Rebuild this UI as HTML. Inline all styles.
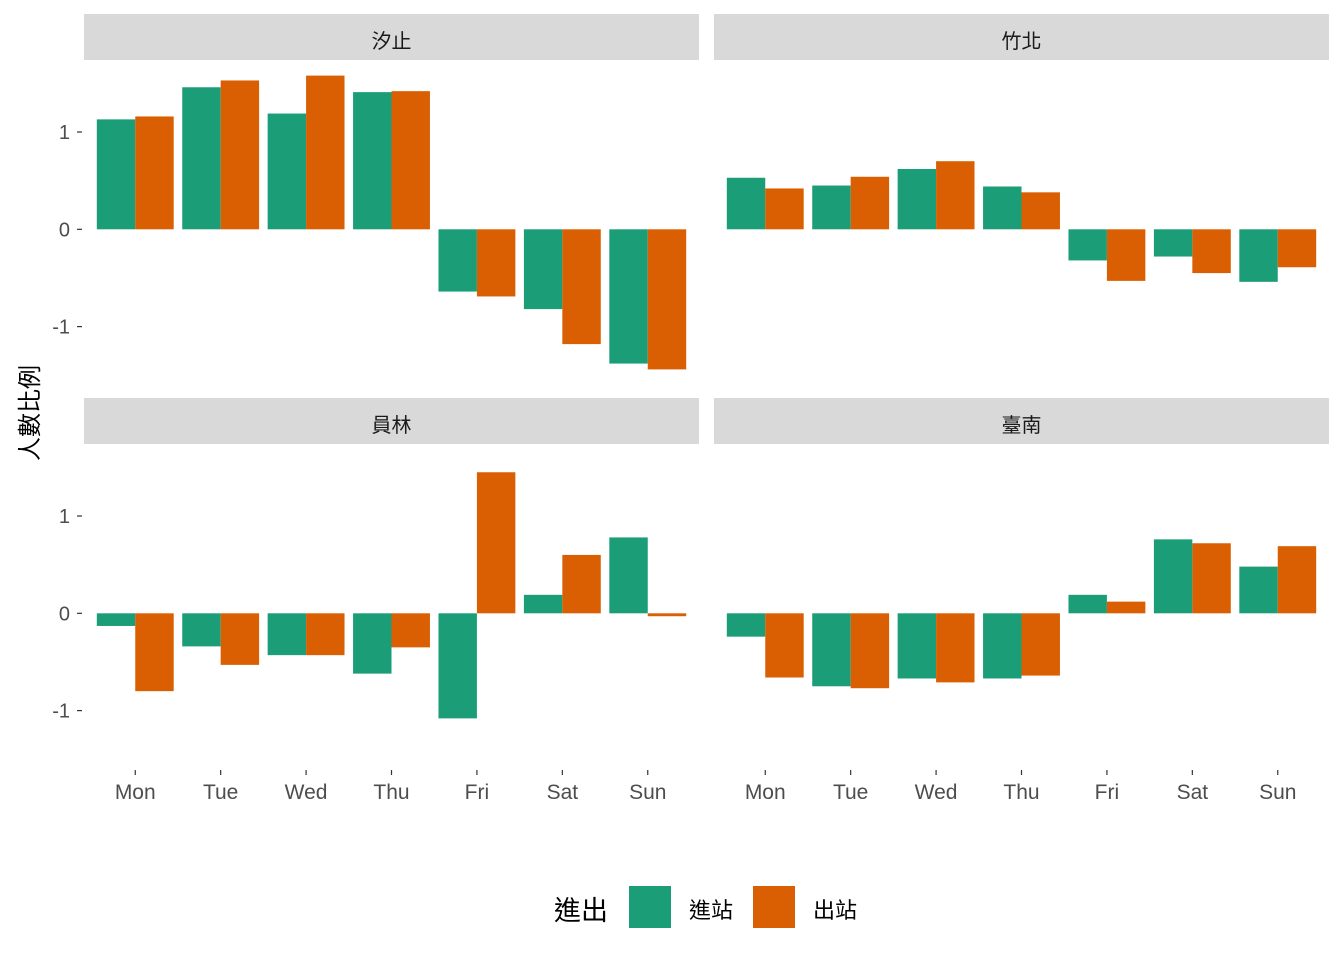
<!DOCTYPE html>
<html><head><meta charset="utf-8"><style>
body{margin:0;background:#fff}
svg{display:block;font-family:"Liberation Sans","Noto Sans CJK TC",sans-serif}
</style></head><body>
<svg id="chart" width="1344" height="960"></svg>
<script>
const days = ["Mon","Tue","Wed","Thu","Fri","Sat","Sun"];
const stations = ["汐止","竹北","員林","臺南"];
const seriesNames = ["進站","出站"];
const xizhiIn = [1.13,1.46,1.19,1.41,-0.64,-0.82,-1.38];
const xizhiOut = [1.16,1.53,1.58,1.42,-0.69,-1.18,-1.44];
const zhubeiIn = [0.53,0.45,0.62,0.44,-0.32,-0.28,-0.54];
const zhubeiOut = [0.42,0.54,0.70,0.38,-0.53,-0.45,-0.39];
const yuanlinIn = [-0.13,-0.34,-0.43,-0.62,-1.08,0.19,0.78];
const yuanlinOut = [-0.80,-0.53,-0.43,-0.35,1.45,0.60,-0.03];
const tainanIn = [-0.24,-0.75,-0.67,-0.67,0.19,0.76,0.48];
const tainanOut = [-0.66,-0.77,-0.71,-0.64,0.12,0.72,0.69];
const yTicks = [-1,0,1];
const panelData = [[xizhiIn,xizhiOut],[zhubeiIn,zhubeiOut],[yuanlinIn,yuanlinOut],[tainanIn,tainanOut]];
const colors = ["#1B9E77","#D95F02"];
const NS="http://www.w3.org/2000/svg";
const svg=document.getElementById('chart');
function mk(tag,attrs,parent,text){const e=document.createElementNS(NS,tag);for(const k in attrs)e.setAttribute(k,attrs[k]);if(text!==undefined)e.textContent=text;(parent||svg).appendChild(e);return e;}
const panels=[{x:84,y:61},{x:714,y:61},{x:84,y:445},{x:714,y:445}];
const PW=615,PH=323,yMin=-1.59,yMax=1.73;
const unit=PW/7.2;
panels.forEach((p,i)=>{
  const g=mk('g',{});
  
  
  const strip=mk('rect',{x:p.x,y:p.y-47,width:PW,height:46,fill:'#D9D9D9'},g);
  
  
  const st=mk('text',{x:p.x+PW/2,y:p.y-13,'text-anchor':'middle','font-size':20,fill:'#1a1a1a'},g,stations[i]);
  
  
  const yS=v=>p.y+(yMax-v)/(yMax-yMin)*PH;
  const xS=k=>p.x+(0.6+k)*unit;
  panelData[i].forEach((ser,s)=>{
    ser.forEach((v,k)=>{
      const bw=unit*0.45;
      const x=xS(k)-unit*0.45+s*bw;
      const y0=yS(0),y1=yS(v);
      const r=mk('rect',{x:x,y:Math.min(y0,y1),width:bw,height:Math.abs(y1-y0),fill:colors[s]},g);
      
      
    });
  });
  if(i%2===0){
    yTicks.forEach(t=>{
      mk('line',{x1:p.x-7,x2:p.x-2,y1:yS(t),y2:yS(t),stroke:'#333','stroke-width':1.2},g);
      const tl=mk('text',{x:p.x-14,y:yS(t)+7,'text-anchor':'end','font-size':20,fill:'#4d4d4d'},g,String(t));
      
      
    });
  }
  if(i>=2){
    days.forEach((d,k)=>{
      mk('line',{x1:xS(k),x2:xS(k),y1:p.y+PH+2,y2:p.y+PH+7,stroke:'#333','stroke-width':1.2},g);
      const tl=mk('text',{x:xS(k),y:p.y+PH+31,'text-anchor':'middle','font-size':21,fill:'#4d4d4d'},g,d);
      
      
    });
  }
});
const yt=mk('text',{x:0,y:0,transform:'translate(38,413) rotate(-90)','text-anchor':'middle','font-size':24,fill:'#000'},svg,'人數比例');


const lg=mk('g',{});


const lt=mk('text',{x:554,y:920,'font-size':27,fill:'#000'},lg,'進出');


[[629,689],[753,813]].forEach((pos,s)=>{
  const k=mk('rect',{x:pos[0],y:886,width:42,height:42,fill:colors[s]},lg);
  
  
  const t=mk('text',{x:pos[1],y:918,'font-size':22,fill:'#000'},lg,seriesNames[s]);
  
  
});
</script>
</body></html>
